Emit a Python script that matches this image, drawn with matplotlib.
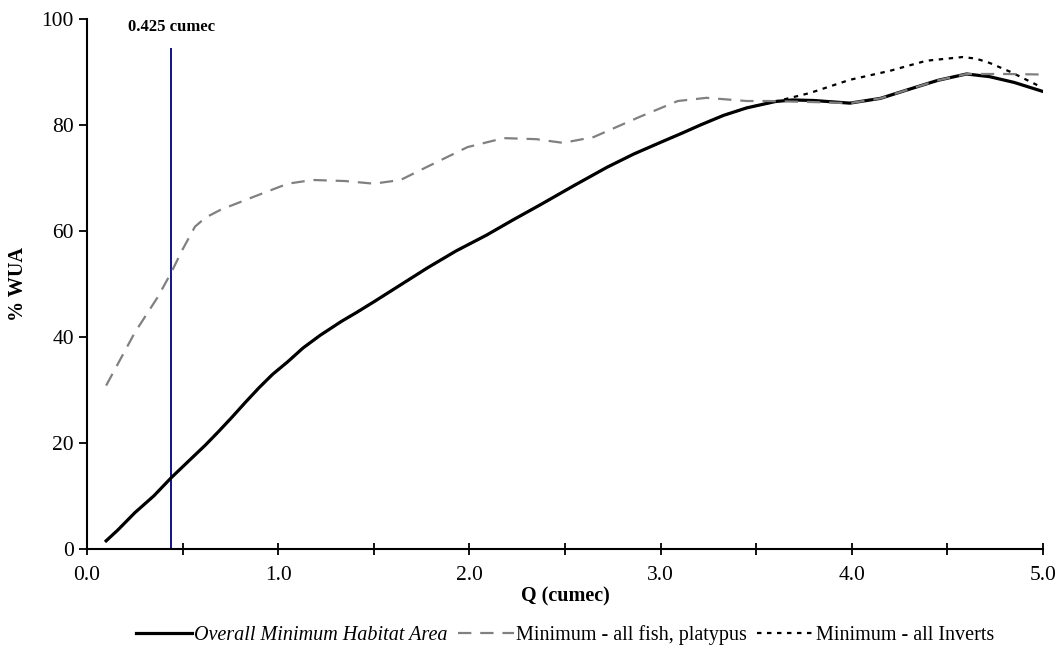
import matplotlib.pyplot as plt
from matplotlib.ticker import MultipleLocator, FuncFormatter

plt.rcParams['font.family'] = ['Liberation Serif', 'DejaVu Serif']

# --- Data ---
overall_q = [0.1, 0.16, 0.25, 0.35, 0.44, 0.53, 0.62, 0.69, 0.76, 0.83, 0.90, 0.97,
             1.05, 1.13, 1.22, 1.33, 1.41, 1.5, 1.64, 1.78, 1.93, 2.09, 2.23, 2.37,
             2.55, 2.72, 2.86, 3.0, 3.11, 3.21, 3.33, 3.45, 3.6, 3.69, 3.8, 3.99,
             4.15, 4.29, 4.45, 4.6, 4.72, 4.85, 5.0]
overall = [1.5, 3.5, 6.8, 10.0, 13.4, 16.5, 19.6, 22.2, 24.9, 27.7, 30.4, 32.9,
           35.3, 37.9, 40.3, 42.9, 44.6, 46.6, 49.8, 53.0, 56.2, 59.2, 62.1, 64.9,
           68.6, 72.0, 74.5, 76.7, 78.4, 80.0, 81.8, 83.2, 84.4, 84.7, 84.6, 84.1,
           85.0, 86.6, 88.4, 89.6, 89.1, 88.0, 86.3]

fish_q = [0.1, 0.13, 0.25, 0.37, 0.44, 0.5, 0.565, 0.62, 0.70, 0.87, 1.05, 1.18,
          1.35, 1.50, 1.64, 1.78, 1.99, 2.18, 2.35, 2.49, 2.65, 2.89, 3.09, 3.24,
          3.45, 3.56, 3.8, 3.99, 4.15, 4.29, 4.45, 4.6, 4.8, 5.0]
fish = [30.8, 32.8, 40.8, 47.5, 52.1, 56.5, 60.8, 62.5, 64.0, 66.4, 68.9, 69.6,
        69.4, 68.9, 69.6, 72.1, 75.8, 77.5, 77.3, 76.6, 77.7, 81.5, 84.5, 85.1,
        84.5, 84.5, 84.3, 84.1, 85.0, 86.6, 88.4, 89.6, 89.6, 89.5]

# inverts follow the overall curve up to ~3.6 cumec, then rise above it
inverts_q = [0.1, 0.16, 0.25, 0.35, 0.44, 0.53, 0.62, 0.69, 0.76, 0.83, 0.90, 0.97,
             1.05, 1.13, 1.22, 1.33, 1.41, 1.5, 1.64, 1.78, 1.93, 2.09, 2.23, 2.37,
             2.55, 2.72, 2.86, 3.0, 3.11, 3.21, 3.33, 3.45, 3.6,
             3.78, 3.99, 4.2, 4.39, 4.58, 4.65, 4.72, 4.83, 4.97]
inverts = [1.5, 3.5, 6.8, 10.0, 13.4, 16.5, 19.6, 22.2, 24.9, 27.7, 30.4, 32.9,
           35.3, 37.9, 40.3, 42.9, 44.6, 46.6, 49.8, 53.0, 56.2, 59.2, 62.1, 64.9,
           68.6, 72.0, 74.5, 76.7, 78.4, 80.0, 81.8, 83.2, 84.4,
           86.0, 88.5, 90.2, 92.1, 92.8, 92.5, 91.7, 90.0, 87.5]

marker_q = 0.44
marker_top = 94.5
marker_label = '0.425 cumec'

fig = plt.figure(figsize=(10.61, 6.51), dpi=100)
ax = fig.add_axes([0.082, 0.157, 0.901, 0.814])

ax.plot(overall_q, overall, color='black', linewidth=2.3, zorder=3,
        label='Overall Minimum Habitat Area')
ax.plot(fish_q, fish, color='#808080', linewidth=1.6, dashes=(6, 4), zorder=4,
        label='Minimum - all fish, platypus')
ax.plot(inverts_q, inverts, color='black', linewidth=1.6, dashes=(2, 2.5), zorder=2,
        label='Minimum - all Inverts')

ax.vlines(marker_q, 0, marker_top, color='#000080', linewidth=1.3)
ax.text(marker_q, marker_top + 2.5, marker_label, ha='center', va='bottom',
        fontsize=12, fontweight='bold')

ax.set_xlim(0, 5)
ax.set_ylim(0, 100)
ax.xaxis.set_major_locator(MultipleLocator(0.5))
ax.xaxis.set_major_formatter(FuncFormatter(
    lambda v, p: f'{v:.1f}' if abs(v - round(v)) < 1e-6 else ''))
ax.yaxis.set_major_locator(MultipleLocator(20))

for side in ['top', 'right']:
    ax.spines[side].set_visible(False)
for side in ['left', 'bottom']:
    ax.spines[side].set_linewidth(1.5)

ax.tick_params(axis='x', direction='inout', length=9, width=1.3, labelsize=15.5, pad=8)
ax.tick_params(axis='y', direction='out', length=6, width=1.3, labelsize=15.5)

ax.set_xlabel('Q (cumec)', fontsize=14.5, fontweight='bold', labelpad=1)
ax.set_ylabel('% WUA', fontsize=14.5, fontweight='bold', labelpad=10)

leg = ax.legend(loc='upper center', bbox_to_anchor=(0.5, -0.11), ncol=3,
                frameon=False, fontsize=14.5, handlelength=2.8,
                handletextpad=0.1, columnspacing=0.5)
leg.get_texts()[0].set_fontstyle('italic')

plt.savefig('out.png', dpi=100)
